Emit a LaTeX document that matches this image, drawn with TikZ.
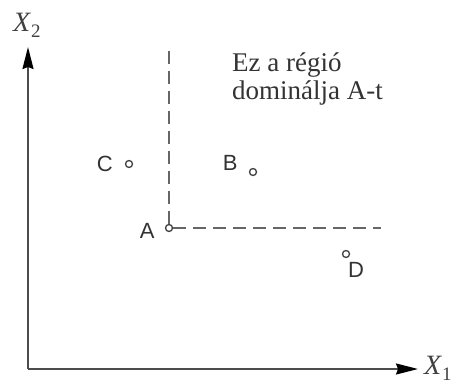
\documentclass[tikz,border=0pt]{standalone}
\usepackage{fontspec}
\setmainfont{Liberation Serif}
\setsansfont{Liberation Sans}
\usetikzlibrary{arrows.meta,positioning}

\begin{document}
\begin{tikzpicture}[x=1pt,y=-1pt,
  axis/.style={line width=1.8pt,black!70,-{Stealth[length=22pt,width=11pt,inset=2pt,black]}},
  dashline/.style={line width=2pt,black!60,dash pattern=on 13pt off 7pt},
  pt/.style={circle,draw=black!75,line width=1.3pt,inner sep=0pt,minimum size=7pt},
  lbl/.style={inner sep=0pt,text=black!80,font=\fontsize{22}{22}\sffamily},
  axlbl/.style={inner sep=0pt,text=black!75,font=\fontsize{28}{28}\selectfont}]
\useasboundingbox (0,0) rectangle (454,385);
\coordinate (o) at (28,369);
\coordinate (xend) at (418,369);
\coordinate (yend) at (28,47);
\node[pt] (a) at (169,228) {};
\node[pt] (b) at (253,172) {};
\node[pt] (c) at (129,164) {};
\node[pt] (d) at (346,254) {};
\coordinate (vtop) at (169,50);
\coordinate (hend) at (381,228);
\draw[axis] (o) -- (xend);
\draw[axis] (o) -- (yend);
\draw[dashline] (a) -- (vtop);
\draw[dashline] (a) -- (hend);
\node[lbl,left=10pt of a,yshift=-3pt] (la) {A};
\node[lbl,left=11pt of b,yshift=9pt] (lb) {B};
\node[lbl,left=12pt of c] (lc) {C};
\node[lbl,below=4pt of d,xshift=10pt] (ld) {D};
\node[axlbl,anchor=base west] (x2) at (13,32) {\textit{X}\raisebox{-6pt}{\fontsize{19}{19}\selectfont 2}};
\node[axlbl,anchor=base west] (x1) at (424,374) {\textit{X}\raisebox{-6pt}{\fontsize{19}{19}\selectfont 1}};
\node[inner sep=0pt,anchor=north west,align=left,text=black!80,
  font=\fontsize{27}{28}\selectfont] (reg) at (232,53) {Ez a régió\\dominálja A-t};
\end{tikzpicture}
\end{document}
